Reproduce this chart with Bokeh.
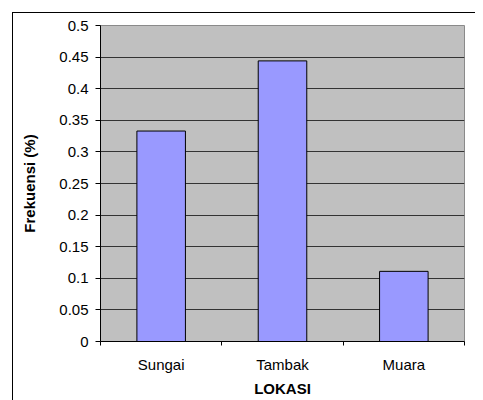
from bokeh.plotting import figure
from bokeh.models import FixedTicker, Range1d, InlineStyleSheet
from bokeh.embed import file_html
from bokeh.resources import INLINE

categories = ["Sungai", "Tambak", "Muara"]
values = [0.333, 0.444, 0.111]
y_ticks = [0, 0.05, 0.1, 0.15, 0.2, 0.25, 0.3, 0.35, 0.4, 0.45, 0.5]
y_tick_labels = ["0", "0.05", "0.1", "0.15", "0.2", "0.25", "0.3", "0.35", "0.4", "0.45", "0.5"]

x_pos = [i + 0.5 for i in range(len(categories))]
bounds = [float(i) for i in range(len(categories) + 1)]

p = figure(width=475, height=400, output_backend="svg", toolbar_location=None,
           x_range=Range1d(0, len(categories)), y_range=Range1d(0, 0.5),
           min_border_left=100, min_border_right=11, min_border_top=25, min_border_bottom=59)

p.vbar(x=x_pos, top=values, width=0.4, fill_color="#9999FF", line_color="black", line_width=1)

p.background_fill_color = "#C0C0C0"
p.border_fill_color = "white"
p.outline_line_color = "#8a8a8a"

font = "Liberation Sans"

# x axis
xa = p.xaxis[0]
xa.ticker = FixedTicker(ticks=x_pos, minor_ticks=bounds)
xa.major_label_overrides = {x: c for x, c in zip(x_pos, categories)}
xa.major_tick_line_color = None
xa.minor_tick_line_color = "black"
xa.minor_tick_out = 4
xa.minor_tick_in = 0
xa.axis_line_color = "black"
xa.major_label_text_font = font
xa.major_label_text_font_size = "15px"
xa.major_label_text_color = "black"
xa.major_label_standoff = 8
xa.axis_label = "LOKASI"
xa.axis_label_text_font = font
xa.axis_label_text_font_size = "15px"
xa.axis_label_text_font_style = "bold"
xa.axis_label_text_color = "black"
xa.axis_label_standoff = 4

# y axis
ya = p.yaxis[0]
ya.ticker = FixedTicker(ticks=y_ticks, minor_ticks=[])
ya.major_label_overrides = {t: l for t, l in zip(y_ticks, y_tick_labels)}
ya.major_tick_out = 5
ya.major_tick_in = 0
ya.major_tick_line_color = "black"
ya.axis_line_color = "black"
ya.major_label_text_font = font
ya.major_label_text_font_size = "15px"
ya.major_label_text_color = "black"
ya.major_label_standoff = 7
ya.axis_label = "Frekuensi (%)"
ya.axis_label_text_font = font
ya.axis_label_text_font_size = "15px"
ya.axis_label_text_font_style = "bold"
ya.axis_label_text_color = "black"
ya.axis_label_standoff = 18

p.xgrid.grid_line_color = None
p.ygrid.ticker = FixedTicker(ticks=y_ticks)
p.ygrid.grid_line_color = "#333333"
p.ygrid.grid_line_width = 1

p.stylesheets = [InlineStyleSheet(css=":host::after { content: ''; position: absolute; left: 12px; top: 12px; right: 0; bottom: 0; border-left: 1px solid black; border-top: 1px solid black; pointer-events: none; }")]

open("out.html", "w").write(file_html(p, INLINE))
